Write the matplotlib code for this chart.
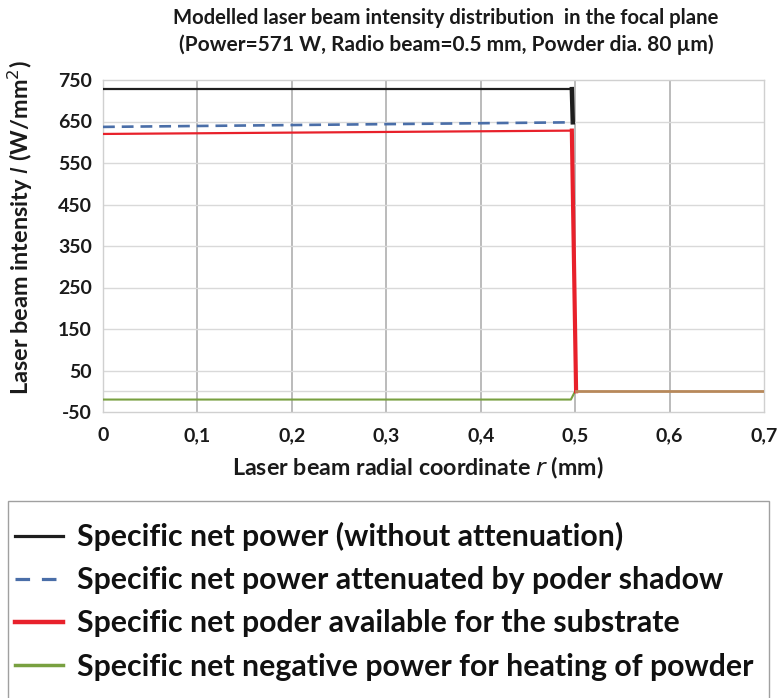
import matplotlib
matplotlib.use("Agg")
import matplotlib.pyplot as plt
from matplotlib.lines import Line2D
from matplotlib.patches import Rectangle

plt.rcParams['lines.scale_dashes'] = False

# ---- data ----
r_black = [0.0, 0.4965, 0.4975, 0.5]
I_black = [728, 728, 648, 0]
r_blue = [0.0, 0.4965]
I_blue = [637, 648]
r_red = [0.0, 0.4965, 0.501, 0.7]
I_red = [620, 628, 0, 0]
r_green = [0.0, 0.4955, 0.5]
I_green = [-20, -20, 0]

x_ticks = [0, 0.1, 0.2, 0.3, 0.4, 0.5, 0.6, 0.7]
x_ticklabels = ["0", "0,1", "0,2", "0,3", "0,4", "0,5", "0,6", "0,7"]
y_ticks = [750, 650, 550, 450, 350, 250, 150, 50, -50]

labels = ["Specific net power (without attenuation)",
          "Specific net power attenuated by poder shadow",
          "Specific net poder available for the substrate",
          "Specific net negative power for heating of powder"]
title1 = "Modelled laser beam intensity distribution  in the focal plane"
title2 = "(Power=571 W, Radio beam=0.5 mm, Powder dia. 80 µm)"

c_black = "#1e1e1e"
c_blue = "#4a6ea8"
c_red = "#e8212b"
c_green = "#78a040"
c_tan = "#b8895a"

FONT = "Lato"

fig = plt.figure(figsize=(7.79, 6.98), dpi=100)
W, H = 779, 698
ax = fig.add_axes([103 / W, 1 - 412 / H, (764 - 103) / W, (412 - 80) / H])

ax.set_xlim(0, 0.7)
ax.set_ylim(-50, 750)

# grid
for xv in x_ticks[1:-1]:
    ax.axvline(xv, color="#a8a8a8", lw=1.1, zorder=0)
for yv in y_ticks[1:-1] + [0]:
    ax.axhline(yv, color="#d9d9d9", lw=1.0, zorder=0)
for s in ax.spines.values():
    s.set_color("#d0d0d0")
    s.set_linewidth(1.0)

# lines
ax.plot(r_black[:2], I_black[:2], color=c_black, lw=1.6, zorder=3)
ax.plot(r_black[1:3], I_black[1:3], color=c_black, lw=3.2, zorder=3)
ax.plot(r_blue, I_blue, color=c_blue, lw=1.9, dashes=(8.5, 5), zorder=3)
ax.plot(r_green, I_green, color=c_green, lw=1.5, zorder=3)
ax.plot(r_red[:2], I_red[:2], color=c_red, lw=1.6, zorder=4)
ax.plot(r_red[1:3], I_red[1:3], color=c_red, lw=3.0, zorder=4)
ax.plot(r_red[2:], I_red[2:], color=c_tan, lw=2.0, zorder=4)

tickfont = dict(family=FONT, weight="bold", size=14)
ax.set_xticks(x_ticks)
ax.set_xticklabels(x_ticklabels, **tickfont)
ax.set_yticks(y_ticks)
ax.set_yticklabels([str(v) for v in y_ticks], **tickfont)
ax.tick_params(axis="x", length=0, pad=11, colors="#1a1a1a")
ax.tick_params(axis="y", length=0, pad=8, colors="#1a1a1a")

fig.canvas.draw()
renderer = fig.canvas.get_renderer()


def fit(t, target_px, vertical=False):
    bb = t.get_window_extent(renderer)
    cur = bb.height if vertical else bb.width
    t.set_fontsize(t.get_fontsize() * target_px / cur)


xl = fig.text(418 / W, 1 - 468 / H, r"Laser beam radial coordinate $\it{r}$ (mm)",
              family=FONT, weight="bold", size=15, ha="center", va="center", color="#1a1a1a")
yl = fig.text(20 / W, 1 - 228 / H, r"Laser beam intensity $\it{I}$ (W/mm$^2$)",
              family=FONT, weight="bold", size=15, ha="center", va="center",
              rotation=90, color="#1a1a1a")
t1 = fig.text(446 / W, 1 - 18 / H, title1, ha="center", va="center",
              family=FONT, weight="bold", size=13, color="#1a1a1a")
t2 = fig.text(446 / W, 1 - 45 / H, title2, ha="center", va="center",
              family=FONT, weight="bold", size=13, color="#1a1a1a")
fit(xl, 373)
fit(yl, 335, vertical=True)
fit(t1, 543)
fit(t2, 534)

# legend font size fitted to reference width of longest entry
probe = fig.text(0, 0, labels[3], family=FONT, weight="bold", size=20)
fit(probe, 676)
leg_size = probe.get_fontsize()
probe.remove()
fpx = leg_size * 100 / 72.0

# legend frame (extends past the bottom edge as in the reference)
fig.add_artist(Rectangle((8 / W, -0.02), (769 - 8) / W, (1 - 501 / H) + 0.02,
                         transform=fig.transFigure, fill=False,
                         edgecolor="#a0a0a0", lw=1.0))

handles = [Line2D([], [], color=c_black, lw=2.3),
           Line2D([], [], color=c_blue, lw=2.3, dashes=(10.5, 8.5)),
           Line2D([], [], color=c_red, lw=3.2),
           Line2D([], [], color=c_green, lw=2.5)]
leg = fig.legend(handles, labels, loc="upper left",
                 bbox_to_anchor=(15 / W, 1 - 522 / H),
                 prop=dict(family=FONT, weight="bold", size=leg_size),
                 frameon=False, handlelength=48 / fpx, handletextpad=14 / fpx,
                 labelspacing=0.5, borderpad=0, borderaxespad=0)
for t in leg.get_texts():
    t.set_color("#111111")

fig.savefig("out.png", dpi=100)
